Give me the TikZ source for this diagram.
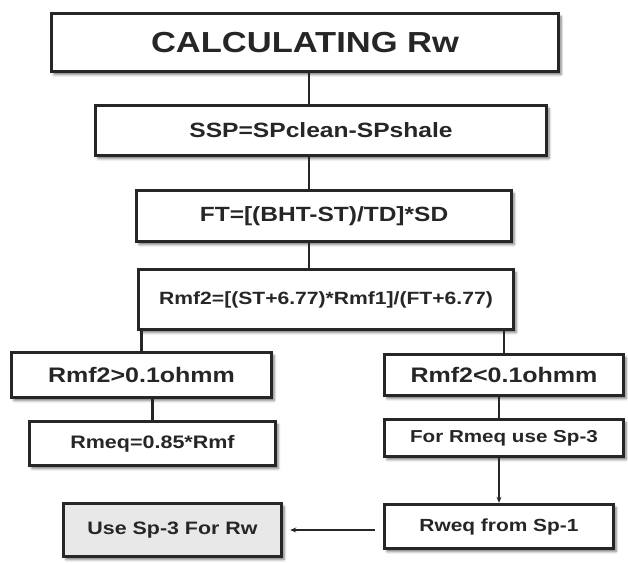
\documentclass[tikz,border=0pt]{standalone}
\usepackage{fontspec}
\setmainfont{Liberation Sans}
\usepackage{graphicx}
\usetikzlibrary{shadows.blur,arrows.meta}
\newcommand{\sq}[2]{{\fontsize{#1}{#1}\selectfont\bfseries\raisebox{-0.3ex}{\scalebox{1}[0.84]{#2}}}}

\begin{document}
\begin{tikzpicture}[x=1pt,y=-1pt,>={Stealth[length=6pt,width=5pt]}]
 \tikzstyle{box} = [draw=black!85,line width=3.4pt,fill=white,inner sep=0pt,text=black!85,
   blur shadow={shadow xshift=2.5pt,shadow yshift=-3pt,shadow blur radius=2.5pt,shadow opacity=55}]
 \tikzstyle{link} = [draw=black!85,line width=2.4pt]
 \useasboundingbox (0,0) rectangle (628,562);

% Main column
 \node[box,minimum width=507pt,minimum height=58pt] (title) at (305,42.5) {\sq{34.5pt}{CALCULATING Rw}};
 \node[box,minimum width=451pt,minimum height=50pt] (ssp) at (321,130.5) {\sq{24.6pt}{SSP=SPclean-SPshale}};
 \node[box,minimum width=375pt,minimum height=51pt] (ft) at (324,216) {\sq{24.5pt}{FT=[(BHT-ST)/TD]*SD}};
 \node[box,minimum width=375pt,minimum height=60pt] (rmf) at (326,299.5) {\sq{21.1pt}{Rmf2=[(ST+6.77)*Rmf1]/(FT+6.77)}};

% Left branch
 \node[box,minimum width=260pt,minimum height=45pt] (high) at (141.5,375) {\sq{25pt}{Rmf2>0.1ohmm}};
 \node[box,minimum width=246pt,minimum height=44pt] (rmeq) at (152.5,443.5) {\sq{21.5pt}{Rmeq=0.85*Rmf}};
 \node[box,minimum width=218pt,minimum height=53pt,fill=black!9] (usesp) at (172.5,530) {\sq{21.4pt}{Use Sp-3 For Rw}};

% Right branch
 \node[box,minimum width=239pt,minimum height=41pt] (low) at (504,375) {\sq{25pt}{Rmf2<0.1ohmm}};
 \node[box,minimum width=239pt,minimum height=37pt] (forsp) at (504,438) {\sq{20.6pt}{For Rmeq use Sp-3}};
 \node[box,minimum width=229pt,minimum height=44pt] (rweq) at (499,526.5) {\sq{20.9pt}{Rweq from Sp-1}};

% Links
 \coordinate (spine) at (309,0);
 \draw[link] (title.south -| spine) -- (ssp.north -| spine);
 \draw[link] (ssp.south -| spine) -- (ft.north -| spine);
 \draw[link] (ft.south -| spine) -- (rmf.north -| spine);
 \draw[link] (rmf.south -| high) -- (high.north);
 \draw[link] (rmf.south -| low) -- (low.north);
 \draw[link] (high.south -| rmeq) -- (rmeq.north);
 \draw[link] (low.south -| rweq) -- (forsp.north -| rweq);
 \draw[link,line width=1.4pt,->] (forsp.south -| rweq) -- (rweq.north);
 \draw[link,line width=1.8pt,->,shorten <=8pt,shorten >=7pt] (rweq.west |- usesp) -- (usesp.east);
\end{tikzpicture}
\end{document}
